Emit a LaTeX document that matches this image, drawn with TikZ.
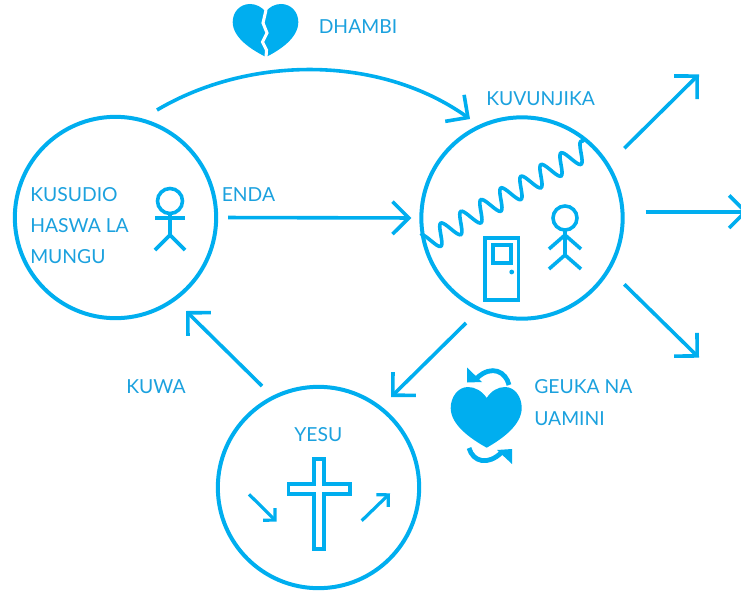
\documentclass[tikz,border=0pt]{standalone}
\usepackage{fontspec}
\setmainfont{Lato}
\usepackage{xcolor}
\usetikzlibrary{arrows.meta}
\definecolor{linecol}{HTML}{00AEEF}
\definecolor{textcol}{HTML}{1BA1DE}
\tikzset{
  ring/.style={draw=linecol, line width=3pt, circle, inner sep=0pt, outer sep=0pt, minimum size=151pt},
  lbl/.style={text=textcol, font=\fontsize{14.5pt}{23.6pt}\selectfont, inner sep=0pt, anchor=base west},
  bigarrow/.style={draw=linecol, line width=2.7pt, -{Straight Barb[length=12.2pt,width=24.4pt]}},
  smallarrow/.style={draw=linecol, line width=2.4pt, -{Straight Barb[length=6.4pt,width=12.8pt]}},
  figure/.style={draw=linecol, line width=2.7pt}
}

\begin{document}
\begin{tikzpicture}[x=0.75pt,y=-0.75pt]

\useasboundingbox (0,0) rectangle (741,592);

% circles
\node[ring] (lefto) at (115.5,217.5) {};
\node[ring] (righto) at (522,218) {};
\node[ring] (yesuo) at (318.5,487.5) {};

% free ends
\coordinate (curvestart) at (157,110);
\coordinate (curveend) at (470,119);
\coordinate (downstart) at (466,323);
\coordinate (downend) at (391,397);
\coordinate (kuwastart) at (262,386);
\coordinate (kuwaend) at (186,311);
\coordinate (outa) at (624.3,148.3);
\coordinate (outb) at (699,74.3);
\coordinate (outc) at (645.7,211.7);
\coordinate (outd) at (748,211.7);
\coordinate (oute) at (624.3,284.3);
\coordinate (outf) at (699,357.7);
\coordinate (crossa) at (249,494.3);
\coordinate (crossb) at (276.7,521.7);
\coordinate (crossc) at (361.7,520.7);
\coordinate (crossd) at (390,493.3);

% arrows
\draw[bigarrow] (curvestart) .. controls (250,55) and (380,55) .. (curveend);
\draw[bigarrow, shorten <=9pt, shorten >=7.5pt] (lefto.east) -- (righto.west);
\draw[bigarrow] (downstart) -- (downend);
\draw[bigarrow] (kuwastart) -- (kuwaend);
\draw[bigarrow] (outa) -- (outb);
\draw[bigarrow] (outc) -- (outd);
\draw[bigarrow] (oute) -- (outf);
\draw[smallarrow] (crossa) -- (crossb);
\draw[smallarrow] (crossc) -- (crossd);

% labels
\node[lbl] (dhambi) at (318.5,34) {DHAMBI};
\node[lbl] (kuvunjika) at (486,105) {KUVUNJIKA};
\node[lbl] (enda) at (221.5,201) {ENDA};
\node[lbl] (kuwa) at (126,393) {KUWA};
\node[lbl] (geuka) at (534,393) {GEUKA NA};
\node[lbl] (uamini) at (534,425) {UAMINI};
\node[lbl] (yesu) at (294,441) {YESU};
\node[lbl] (kusudio) at (30,201) {KUSUDIO};
\node[lbl] (haswa) at (30,232) {HASWA LA};
\node[lbl] (mungu) at (30,263) {MUNGU};

% person left
\draw[figure] (170,201) circle [radius=12.5];
\draw[figure] (170,213.5)--(170,235);
\draw[figure] (155,218)--(185,218);
\draw[figure] (155,250)--(170,235)--(185,250);

% person right
\draw[figure] (565,218) circle [radius=12];
\draw[figure] (565,230)--(565,255);
\draw[figure] (549,249)--(565,235)--(581,249);
\draw[figure] (549,269)--(565,255)--(581,269);

% door
\draw[figure] (485,238) rectangle (518.5,300);
\draw[figure] (493,245) rectangle (511,263);
\fill[linecol] (511.7,272) circle [radius=2.4];

% wave
\begin{scope}[shift={(440.8,234.7)},rotate=30.3]
\draw[figure, line cap=round] plot[smooth, samples=160, domain=-16.7:170] (\x,{-10*sin(15.517*\x)});
\end{scope}

% cross
\draw[figure] (314,459) -- (324,459) -- (324,484) -- (350,484) -- (350,494) -- (324,494)
  -- (324,549) -- (314,549) -- (314,494) -- (288.5,494) -- (288.5,484) -- (314,484) -- cycle;

% broken heart
\fill[linecol] (265.7,12) .. controls (262,7) and (256,4) .. (250,4) .. controls (240,4) and (232.7,12) .. (232.7,22)
  .. controls (232.7,38) and (252,50) .. (266,57) .. controls (280,50) and (298.3,38) .. (298.3,22)
  .. controls (298.3,12) and (291,4) .. (281,4) .. controls (275,4) and (269,7) .. (265.7,12) -- cycle;
\draw[white, line width=2.3pt] (266,10) -- (263,23) -- (267,33) -- (262.5,42) -- (266.5,50) -- (266,58);

% whole heart
\fill[linecol] (486.7,398) .. controls (482,391) and (475,387) .. (468,387) .. controls (458,387) and (450.7,397) .. (450.7,408)
  .. controls (450.7,425) and (471,439) .. (486.7,447.7) .. controls (502,439) and (521.7,425) .. (521.7,408)
  .. controls (521.7,397) and (515,387) .. (505,387) .. controls (498,387) and (491,391) .. (486.7,398) -- cycle;

% turning arrows
\draw[draw=linecol, line width=3.6pt] (509,385) .. controls (506,372) and (492,364) .. (477,378);
\fill[linecol] (467,367.5) -- (467,382.5) -- (482,382) -- cycle;
\draw[draw=linecol, line width=3.6pt] (469,448) .. controls (473,462) and (488,466) .. (502,452);
\fill[linecol] (512,449) -- (512,464) -- (497,450) -- cycle;

\end{tikzpicture}
\end{document}
